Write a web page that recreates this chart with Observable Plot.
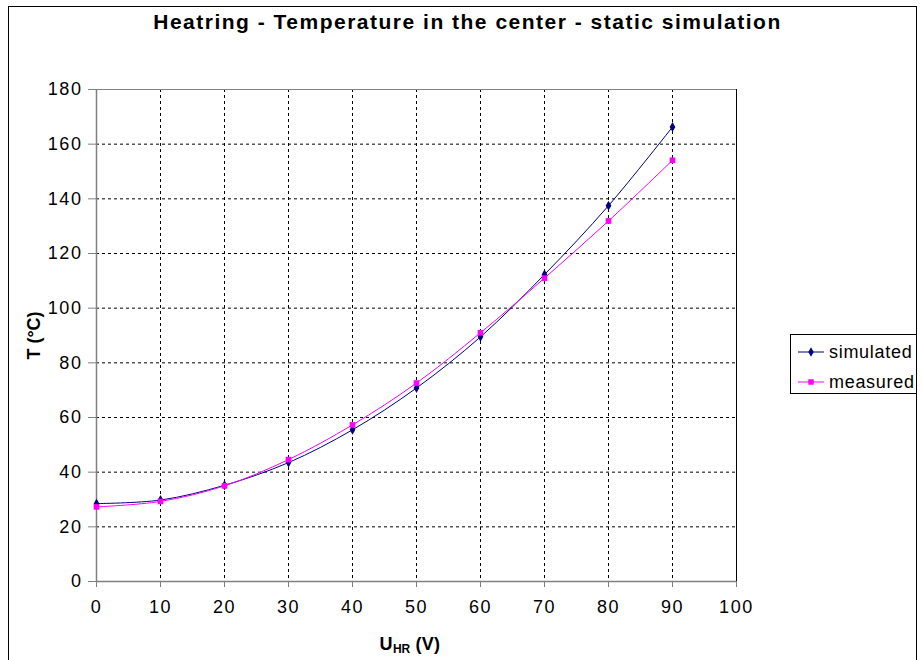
<!DOCTYPE html>
<html>
<head>
<meta charset="utf-8">
<script src="https://cdn.jsdelivr.net/npm/d3@7"></script>
<script src="https://cdn.jsdelivr.net/npm/@observablehq/plot@0.6"></script>
<style>
  html, body { margin: 0; padding: 0; background: white; }
  #wrap { position: relative; width: 923px; height: 660px; overflow: hidden; font-family: "Liberation Sans", Arial, sans-serif; color: black; }
  #chart { position: absolute; left: 0; top: 0; }
  #chart svg g[aria-label="x-axis tick label"] text, #chart svg g[aria-label="y-axis tick label"] text { letter-spacing: 1.6px; }
  #chart svg g[aria-label="x-axis tick label"], #chart svg g[aria-label="y-axis tick label"] { letter-spacing: 1.6px; }
  #frame { position: absolute; left: 8px; top: 6px; width: 907px; height: 680px; border: 1px solid black; overflow: hidden; pointer-events: none; }
  #title { position: absolute; left: 0; width: 935px; top: 10px; text-align: center; font-weight: bold; font-size: 21px; letter-spacing: 1.5px; }
  #xlabel { position: absolute; left: 310px; width: 200px; top: 634px; text-align: center; font-weight: bold; font-size: 18px; letter-spacing: 0.3px; }
  #xlabel sub { font-size: 12px; vertical-align: -3px; line-height: 0; letter-spacing: 0; }
  #legend { position: absolute; left: 781px; top: 327px; width: 150px; height: 58px; border: 1px solid black; background: white; font-size: 18px; letter-spacing: 0.7px; }
  .lrow { position: absolute; left: 6px; height: 24px; display: flex; align-items: center; }
  .lrow svg { margin-right: 4px; }
</style>
</head>
<body>
<div id="wrap">
  <div id="chart"></div>
  <div id="title">Heatring - Temperature in the center - static simulation</div>
  <div id="xlabel">U<sub>HR</sub> (V)</div>
  <div id="frame">
    <div id="legend"></div>
  </div>
</div>
<script>
const voltage = [0, 10, 20, 30, 40, 50, 60, 70, 80, 90];
const simulated = [28.5, 29.8, 35.2, 43.5, 55.5, 70.8, 89.5, 112.3, 137.5, 166.3];
const measured = [27.3, 29.3, 35.0, 44.6, 57.3, 72.6, 91.0, 111.0, 131.9, 154.1];
const seriesNames = ["simulated", "measured"];
const seriesColors = ["#000080", "#FF00FF"];
const xTicks = [0, 10, 20, 30, 40, 50, 60, 70, 80, 90, 100];
const yTicks = [0, 20, 40, 60, 80, 100, 120, 140, 160, 180];
const yLabel = "T (°C)";

const simData = voltage.map((v, i) => ({x: v, y: simulated[i]}));
const measData = voltage.map((v, i) => ({x: v, y: measured[i]}));

const chart = Plot.plot({
  width: 923,
  height: 660,
  marginLeft: 96,
  marginRight: 187,
  marginTop: 89,
  marginBottom: 79,
  x: {domain: [0, 100], ticks: xTicks, label: null},
  y: {domain: [0, 180], ticks: yTicks, label: null},
  style: {fontFamily: "'Liberation Sans', Arial, sans-serif", fontSize: "18px", color: "black", background: "transparent"},
  marks: [
    Plot.gridX(xTicks.slice(1, -1), {stroke: "black", strokeOpacity: 1, strokeDasharray: "3,3"}),
    Plot.gridY(yTicks.slice(1, -1), {stroke: "black", strokeOpacity: 1, strokeDasharray: "3,3"}),
    Plot.ruleX([100], {stroke: "black", strokeWidth: 1}),
    Plot.ruleY([180], {stroke: "#808080", strokeWidth: 1}),
    Plot.axisX({ticks: xTicks, tickSize: 6, tickPadding: 13, stroke: "#808080", fill: "black", fontSize: 18, label: null}),
    Plot.axisY({ticks: yTicks, tickSize: 8, tickPadding: 6, stroke: "#808080", fill: "black", fontSize: 18, label: null}),
    Plot.ruleX([0], {stroke: "#808080", strokeWidth: 1.5}),
    Plot.ruleY([0], {stroke: "#808080", strokeWidth: 1.5}),
    Plot.text([yLabel], {frameAnchor: "left", dx: -62, rotate: -90, textAnchor: "middle", fontWeight: "bold", fontSize: 18, fill: "black"}),
    Plot.line(simData, {x: "x", y: "y", stroke: seriesColors[0], strokeWidth: 1, curve: "catmull-rom"}),
    Plot.line(measData, {x: "x", y: "y", stroke: seriesColors[1], strokeWidth: 1, curve: "catmull-rom"}),
    Plot.dot(simData, {x: "x", y: "y", symbol: "diamond", r: 3, fill: seriesColors[0], stroke: "none"}),
    Plot.dot(measData, {x: "x", y: "y", symbol: "square", r: 3.2, fill: seriesColors[1], stroke: "none"})
  ]
});
document.getElementById("chart").appendChild(chart);

// Legend
const legend = document.getElementById("legend");
seriesNames.forEach((name, i) => {
  const row = document.createElement("div");
  row.className = "lrow";
  row.style.top = (5 + i * 30) + "px";
  const svg = d3.create("svg").attr("width", 28).attr("height", 12);
  svg.append("line").attr("x1", 1).attr("x2", 27).attr("y1", 6).attr("y2", 6).attr("stroke", seriesColors[i]).attr("stroke-width", 1);
  const sym = i === 0 ? d3.symbolDiamond : d3.symbolSquare;
  svg.append("path").attr("d", d3.symbol(sym, i === 0 ? 26 : 30)()).attr("transform", "translate(14,6)").attr("fill", seriesColors[i]);
  row.appendChild(svg.node());
  const span = document.createElement("span");
  span.textContent = name;
  row.appendChild(span);
  legend.appendChild(row);
});
</script>
</body>
</html>
